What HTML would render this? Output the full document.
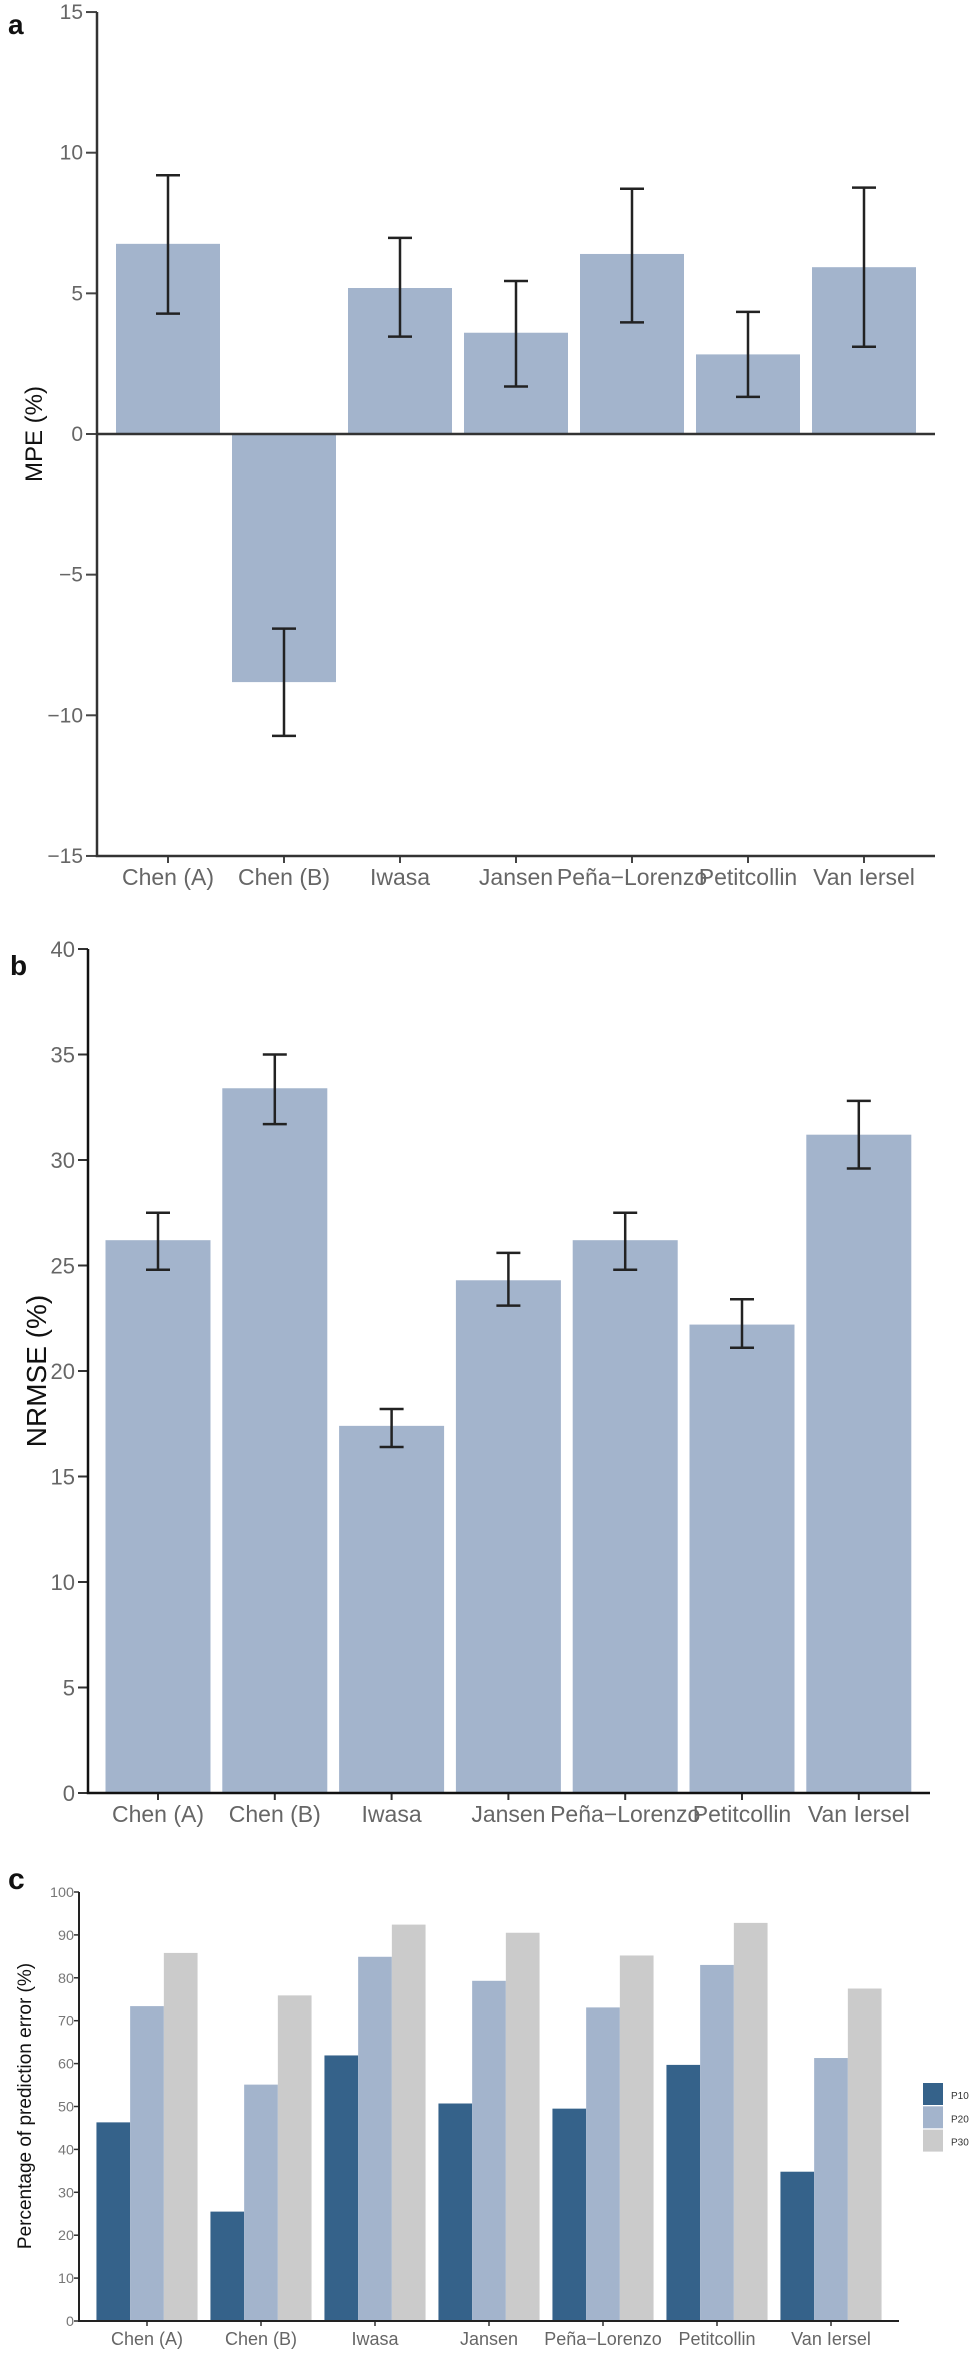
<!DOCTYPE html>
<html><head><meta charset="utf-8"><style>
html,body{margin:0;padding:0;background:#fff}
svg{display:block}
text{font-family:"Liberation Sans",Arial,sans-serif}
</style></head><body>
<svg id="chart" width="974" height="2353" viewBox="0 0 974 2353" xmlns="http://www.w3.org/2000/svg">
<text x="8" y="34" font-size="28" font-weight="bold" fill="#111">a</text>
<text x="10" y="975" font-size="28" font-weight="bold" fill="#111">b</text>
<text x="8" y="1889" font-size="30" font-weight="bold" fill="#111">c</text>
<text transform="translate(42,434) rotate(-90)" text-anchor="middle" font-size="24" fill="#111">MPE (%)</text>
<text transform="translate(46,1371) rotate(-90)" text-anchor="middle" font-size="28" fill="#111">NRMSE (%)</text>
<text transform="translate(31,2106) rotate(-90)" text-anchor="middle" font-size="19" fill="#111">Percentage of prediction error (%)</text>
<g id="pa"></g><g id="pb"></g><g id="pc"></g>
</svg>
<script>
const categories = ["Chen (A)","Chen (B)","Iwasa","Jansen","Peña−Lorenzo","Petitcollin","Van Iersel"];
const mpeValues = [6.76,-8.82,5.19,3.6,6.4,2.83,5.93];
const mpeUpper = [9.2,-6.92,6.97,5.44,8.72,4.34,8.76];
const mpeLower = [4.28,-10.73,3.46,1.69,3.97,1.32,3.1];
const mpeTicks = [15,10,5,0,-5,-10,-15];
const nrmseValues = [26.2,33.4,17.4,24.3,26.2,22.2,31.2];
const nrmseUpper = [27.5,35.0,18.2,25.6,27.5,23.4,32.8];
const nrmseLower = [24.8,31.7,16.4,23.1,24.8,21.1,29.6];
const nrmseTicks = [40,35,30,25,20,15,10,5,0];
const p10 = [46.3,25.5,61.9,50.7,49.5,59.7,34.8];
const p20 = [73.4,55.1,84.9,79.3,73.1,83.0,61.3];
const p30 = [85.8,75.9,92.4,90.5,85.2,92.8,77.5];
const pTicks = [100,90,80,70,60,50,40,30,20,10,0];
const seriesNames = ["P10","P20","P30"];

const NS="http://www.w3.org/2000/svg";
function mk(parent,tag,attrs,txt){const e=document.createElementNS(NS,tag);for(const k in attrs)e.setAttribute(k,attrs[k]);if(txt!==undefined)e.textContent=txt;parent.appendChild(e);return e;}

// Panel A
(function(){
  const g=document.getElementById('pa');
  const y=v=>434-v*28.13;
  const x=i=>168+i*116;
  const bw=104;
  mpeTicks.forEach(t=>{
    const tk=mk(g,'line',{x1:86,x2:97,y1:y(t),y2:y(t),stroke:'#444','stroke-width':2});
    
    
    const lb=mk(g,'text',{x:83,y:y(t)+7,'text-anchor':'end','font-size':21,fill:'#666'},t<0?'−'+Math.abs(t):String(t));
    
    
  });
  mpeValues.forEach((v,i)=>{
    const top=Math.min(y(v),y(0)),h=Math.abs(y(v)-y(0));
    const r=mk(g,'rect',{x:x(i)-bw/2,y:top,width:bw,height:h,fill:'#a3b4cc'});
    
    
  });
  const zl=mk(g,'line',{x1:97,x2:935,y1:y(0),y2:y(0),stroke:'#333','stroke-width':2.5});
  
  
  mpeValues.forEach((v,i)=>{
    const eg=mk(g,'g',{stroke:'#222','stroke-width':2.5});
    
    
    mk(eg,'line',{x1:x(i),x2:x(i),y1:y(mpeUpper[i]),y2:y(mpeLower[i])});
    mk(eg,'line',{x1:x(i)-12,x2:x(i)+12,y1:y(mpeUpper[i]),y2:y(mpeUpper[i])});
    mk(eg,'line',{x1:x(i)-12,x2:x(i)+12,y1:y(mpeLower[i]),y2:y(mpeLower[i])});
    mk(g,'line',{x1:x(i),x2:x(i),y1:856,y2:863,stroke:'#444','stroke-width':2});
    const lb=mk(g,'text',{x:x(i),y:885,'text-anchor':'middle','font-size':23,fill:'#666'},categories[i]);
    
    
  });
  const ax=mk(g,'path',{d:'M97 12 V856 H935',fill:'none',stroke:'#333','stroke-width':2.5});
  
  
})();

// Panel B
(function(){
  const g=document.getElementById('pb');
  const y=v=>1793-v*21.1;
  const x=i=>158+i*116.8;
  const bw=105;
  nrmseTicks.forEach(t=>{
    const tk=mk(g,'line',{x1:78,x2:88,y1:y(t),y2:y(t),stroke:'#333','stroke-width':2});
    
    
    const lb=mk(g,'text',{x:75,y:y(t)+8,'text-anchor':'end','font-size':22,fill:'#666'},String(t));
    
    
  });
  nrmseValues.forEach((v,i)=>{
    const r=mk(g,'rect',{x:x(i)-bw/2,y:y(v),width:bw,height:y(0)-y(v),fill:'#a3b4cc'});
    
    
    const eg=mk(g,'g',{stroke:'#222','stroke-width':2.5});
    
    
    mk(eg,'line',{x1:x(i),x2:x(i),y1:y(nrmseUpper[i]),y2:y(nrmseLower[i])});
    mk(eg,'line',{x1:x(i)-12,x2:x(i)+12,y1:y(nrmseUpper[i]),y2:y(nrmseUpper[i])});
    mk(eg,'line',{x1:x(i)-12,x2:x(i)+12,y1:y(nrmseLower[i]),y2:y(nrmseLower[i])});
    mk(g,'line',{x1:x(i),x2:x(i),y1:1793,y2:1800,stroke:'#333','stroke-width':2});
    const lb=mk(g,'text',{x:x(i),y:1822,'text-anchor':'middle','font-size':23,fill:'#666'},categories[i]);
    
    
  });
  const ax=mk(g,'path',{d:'M88 949 V1793 H930',fill:'none',stroke:'#111','stroke-width':2.5});
  
  
})();

// Panel C
(function(){
  const g=document.getElementById('pc');
  const y=v=>2321-v*4.29;
  const x=i=>147+i*114;
  const bw=33.7;
  const colors=['#35628a','#a3b4cc','#cbcbcb'];
  const series=[p10,p20,p30];
  pTicks.forEach(t=>{
    const tk=mk(g,'line',{x1:74,x2:79,y1:y(t),y2:y(t),stroke:'#333','stroke-width':1.5});
    
    
    const lb=mk(g,'text',{x:74,y:y(t)+5,'text-anchor':'end','font-size':14,fill:'#777',textLength:(t>=100?24:t>=10?16:8),lengthAdjust:'spacingAndGlyphs'},String(t));
    
    
  });
  categories.forEach((c,i)=>{
    series.forEach((s,k)=>{
      const r=mk(g,'rect',{x:x(i)-1.5*bw+k*bw,y:y(s[i]),width:bw,height:y(0)-y(s[i]),fill:colors[k]});
      
      
    });
    mk(g,'line',{x1:x(i),x2:x(i),y1:2321,y2:2326,stroke:'#333','stroke-width':1.5});
    const lb=mk(g,'text',{x:x(i),y:2345,'text-anchor':'middle','font-size':18,fill:'#666'},c);
    
    
  });
  const ax=mk(g,'path',{d:'M79 1892 V2321 H899',fill:'none',stroke:'#222','stroke-width':2});
  
  
  seriesNames.forEach((n,k)=>{
    const lg=mk(g,'g',{});
    
    
    mk(lg,'rect',{x:923,y:2083+k*23.3,width:20,height:22,fill:colors[k]});
    mk(lg,'text',{x:951,y:2099+k*23.3,'font-size':10,fill:'#333'},n);
  });
})();
</script>
</body></html>
